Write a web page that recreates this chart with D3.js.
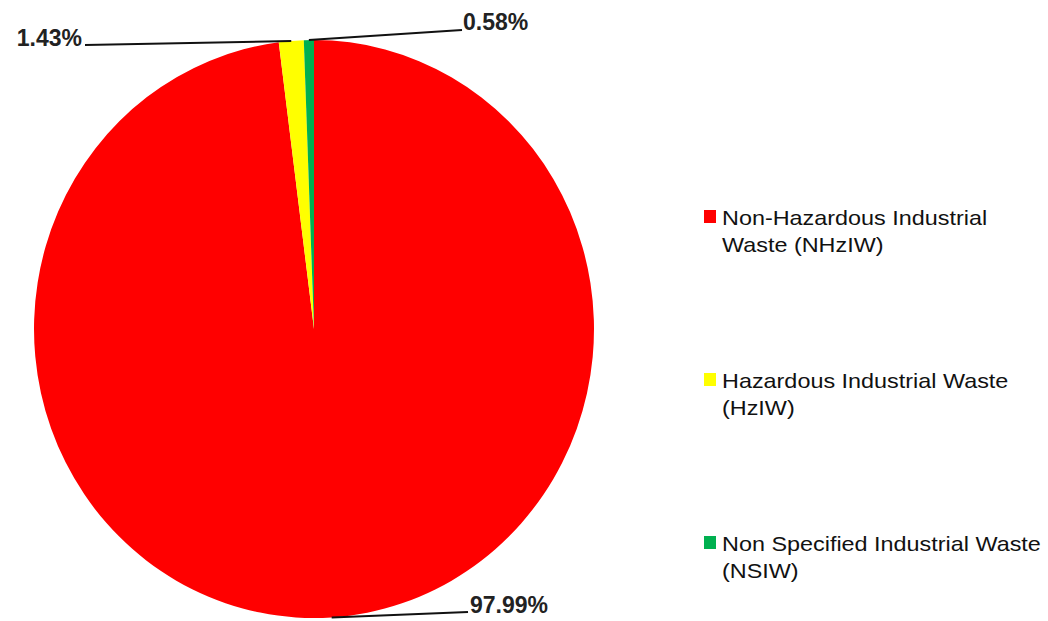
<!DOCTYPE html>
<html>
<head>
<meta charset="utf-8">
<script src="https://cdn.jsdelivr.net/npm/d3@7"></script>
<style>
  html, body { margin: 0; padding: 0; background: #fff; }
  svg { display: block; }
</style>
</head>
<body>
<svg id="chart" width="1048" height="621"></svg>
<script>
const categories = ["Non-Hazardous Industrial Waste (NHzIW)", "Hazardous Industrial Waste (HzIW)", "Non Specified Industrial Waste (NSIW)"];
const legendLines = [["Non-Hazardous Industrial", "Waste (NHzIW)"], ["Hazardous Industrial Waste", "(HzIW)"], ["Non Specified Industrial Waste", "(NSIW)"]];
const values = [97.99, 1.43, 0.58];
const valueLabels = ["97.99%", "1.43%", "0.58%"];
const colors = ["#FF0000", "#FFFF00", "#00B050"];

const svg = d3.select("#chart");
const cx = 314, cy = 329, rx = 280, ry = 289;

const pie = d3.pie().sort(null).value(d => d)(values);
const arc = d3.arc().innerRadius(0).outerRadius(ry);

const pieG = svg.append("g").attr("transform", `translate(${cx},${cy}) scale(${rx / ry},1)`);
pieG.selectAll("path").data(pie).enter().append("path")
  .attr("d", arc)
  .attr("fill", (d, i) => colors[i]);

// label layout: anchor point of text and the leader-line end
const labelLayout = [
  { tx: 470, ty: 613, lx: 468, ly: 612, anchor: "start" },
  { tx: 82, ty: 46, lx: 85, ly: 45, anchor: "end" },
  { tx: 463, ty: 30, lx: 462, ly: 30, anchor: "start" }
];

pie.forEach((d, i) => {
  const a = (d.startAngle + d.endAngle) / 2;
  const px = cx + Math.sin(a) * rx;
  const py = cy - Math.cos(a) * ry;
  const L = labelLayout[i];
  svg.append("line")
    .attr("x1", px).attr("y1", py)
    .attr("x2", L.lx).attr("y2", L.ly)
    .attr("stroke", "#111").attr("stroke-width", 2);
  svg.append("text")
    .attr("x", L.tx).attr("y", L.ty)
    .attr("text-anchor", L.anchor)
    .attr("font-family", "'Liberation Sans', Arial, sans-serif")
    .attr("font-weight", "bold")
    .attr("font-size", 23)
    .attr("fill", "#222")
    .text(valueLabels[i]);
});

// legend
const legendY = [225, 388, 551];
const lg = svg.append("g");
categories.forEach((c, i) => {
  lg.append("rect")
    .attr("x", 704).attr("y", legendY[i] - 15)
    .attr("width", 12).attr("height", 13)
    .attr("fill", colors[i]);
  const t = lg.append("g").attr("transform", `translate(722,${legendY[i]}) scale(1.17,1)`);
  legendLines[i].forEach((line, j) => {
    t.append("text")
      .attr("x", 0).attr("y", j * 27)
      .attr("font-family", "'Liberation Sans', Arial, sans-serif")
      .attr("font-size", 20)
      .attr("fill", "#111")
      .text(line);
  });
});
</script>
</body>
</html>
